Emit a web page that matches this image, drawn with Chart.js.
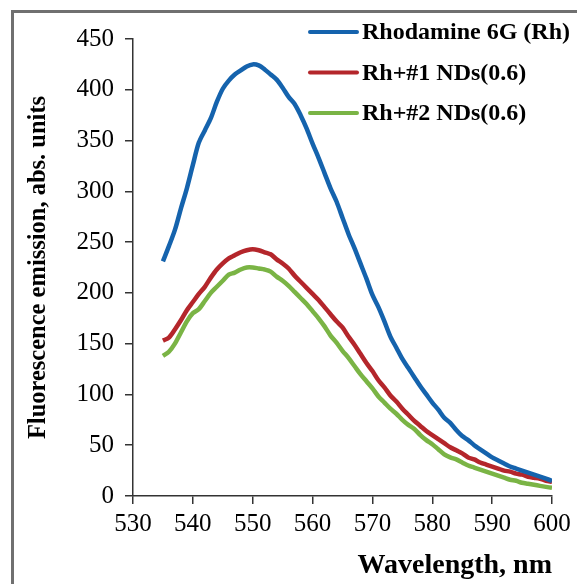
<!DOCTYPE html>
<html>
<head>
<meta charset="utf-8">
<script src="https://cdn.jsdelivr.net/npm/chart.js@4/dist/chart.umd.min.js"></script>
<style>
  body { margin: 0; background: #fff; }
  #wrap { position: relative; width: 577px; height: 584px; overflow: hidden; }
  #frame { position: absolute; left: 11px; top: 10px; width: 600px; height: 600px; border-left: 3px solid #707070; border-top: 3px solid #707070; }
  canvas { position: absolute; left: 0; top: 0; }
</style>
</head>
<body>
<div id="wrap">
  <div id="frame"></div>
  <canvas id="myChart" width="577" height="584"></canvas>
</div>
<script>
const wavelengths = [535,536,537,538,539,540,541,542,543,544,545,546,547,548,549,550,551,552,553,554,555,556,557,558,559,560,561,562,563,564,565,566,567,568,569,570,571,572,573,574,575,576,577,578,579,580,581,582,583,584,585,586,587,588,589,590,591,592,593,594,595,596,597,598,599,600];

const rhodamine = [231,246,262,283,303,326,348,360,372,388,401,409,415,419,423,425,424,420,415,410,402,393,386,375,362,347,333,318,303,290,274,258,244,229,214,198,186,172,157,146,135,126,117,108,100,92,85,77,72,65,59,55,50,46,42,38,35,32,29,27,25,23,21,19,17,15];

const rhNd1 = [153,156,164,173,183,191,199,206,215,223,229,234,237,240,242,243,242,240,238,233,229,224,217,211,205,199,193,186,179,172,166,157,149,140,131,123,114,107,99,93,86,80,74,69,64,60,56,52,48,45,42,38,36,33,31,29,27,25,24,22,21,19,18,17,15,14];

const rhNd2 = [138,142,150,161,172,180,184,192,200,206,212,218,220,223,225,225,224,223,221,216,212,207,201,195,189,182,175,167,158,151,143,136,128,120,113,106,98,92,86,81,75,70,66,60,55,51,46,41,38,36,33,30,28,26,24,22,20,18,16,15,13,12,11,10,9,8];

const seriesNames = ['Rhodamine 6G (Rh)', 'Rh+#1 NDs(0.6)', 'Rh+#2 NDs(0.6)'];
const seriesColors = ['#1563ad', '#b4262b', '#7ab445'];
const xTicks = [530, 540, 550, 560, 570, 580, 590, 600];
const yTicks = [0, 50, 100, 150, 200, 250, 300, 350, 400, 450];

const allSeries = [rhodamine, rhNd1, rhNd2];

const legendPlugin = {
  id: 'cornerLegend',
  afterDraw(chart) {
    const c = chart.ctx;
    c.save();
    c.font = 'bold 24px "Liberation Serif", serif';
    c.textBaseline = 'middle';
    chart.data.datasets.forEach((ds, i) => {
      const y = 32 + i * 40.5;
      c.strokeStyle = ds.borderColor;
      c.lineWidth = 4;
      c.lineCap = 'round';
      c.beginPath();
      c.moveTo(310, y);
      c.lineTo(357, y);
      c.stroke();
      c.fillStyle = '#000';
      c.fillText(ds.label, 362, y + 1);
    });
    c.restore();
  }
};

const ctx = document.getElementById('myChart');
const myChart = new Chart(ctx, {
  type: 'line',
  data: {
    datasets: allSeries.map((vals, i) => ({
      label: seriesNames[i],
      data: wavelengths.map((w, j) => ({ x: w, y: vals[j] })),
      borderColor: seriesColors[i],
      borderWidth: 4.5,
      pointRadius: 0,
      tension: 0.3,
      fill: false
    }))
  },
  options: {
    responsive: false,
    animation: false,
    layout: { padding: { left: 0, right: 25, top: 39, bottom: 0 } },
    plugins: {
      legend: { display: false },
      tooltip: { enabled: false }
    },
    scales: {
      x: {
        type: 'linear',
        min: 530,
        max: 600,
        afterBuildTicks: s => { s.ticks = xTicks.map(v => ({ value: v })); },
        afterFit: s => { s.height = 88; },
        grid: { drawOnChartArea: false, drawTicks: true, tickLength: 8, color: '#333', lineWidth: 1.5 },
        border: { display: true, color: '#333', width: 1.5 },
        ticks: { color: '#000', padding: 5, font: { family: '"Liberation Serif", serif', size: 25 } },
        title: {
          display: true,
          text: 'Wavelength, nm',
          align: 'end',
          color: '#000',
          padding: { top: 0, bottom: 1 },
          font: { family: '"Liberation Serif", serif', size: 28, weight: 'bold' }
        }
      },
      y: {
        min: 0,
        max: 450,
        afterBuildTicks: s => { s.ticks = yTicks.map(v => ({ value: v })); },
        afterFit: s => { s.width = 133; },
        grid: { drawOnChartArea: false, drawTicks: true, tickLength: 8, color: '#333', lineWidth: 1.5 },
        border: { display: true, color: '#333', width: 1.5 },
        ticks: { color: '#000', padding: 11, font: { family: '"Liberation Serif", serif', size: 25 } },
        title: {
          display: true,
          text: 'Fluorescence emission, abs. units',
          color: '#000',
          padding: { top: 24, bottom: 0 },
          font: { family: '"Liberation Serif", serif', size: 24.5, weight: 'bold' }
        }
      }
    }
  },
  plugins: [legendPlugin]
});
</script>
</body>
</html>
